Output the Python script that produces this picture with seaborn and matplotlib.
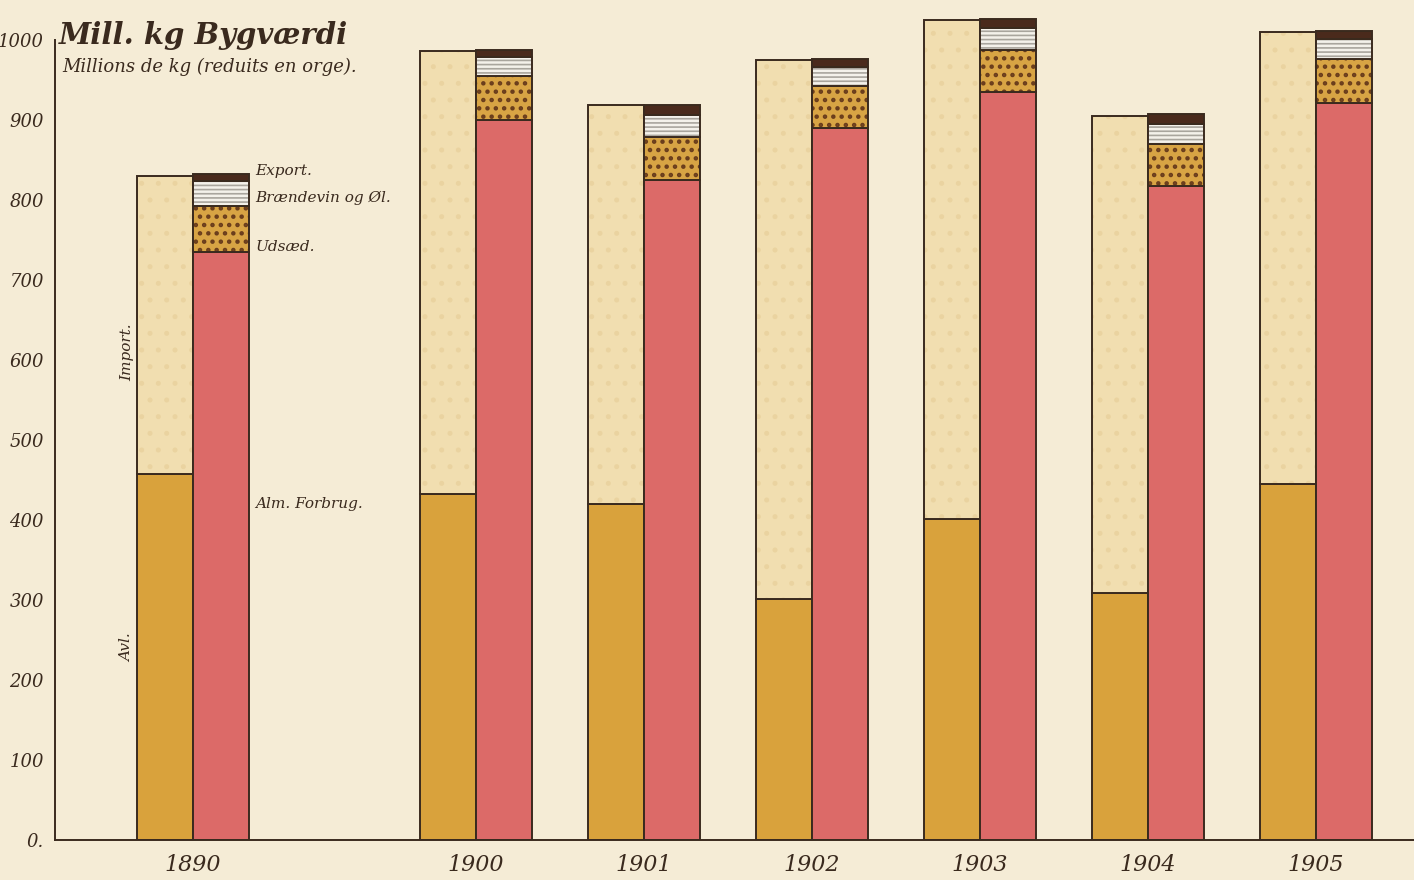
import matplotlib
matplotlib.use("Agg")
import matplotlib.pyplot as plt
import numpy as np
import pandas as pd
import seaborn as sns

# values, mill. kg (barley value)
years = ['1890', '1900', '1901', '1902', '1903', '1904', '1905']
avl = [457, 432, 420, 301, 401, 309, 445]            # production
imp = [373, 554, 499, 674, 624, 596, 565]            # import
forbrug = [735, 900, 825, 890, 935, 817, 921]         # general consumption
udsaed = [57, 55, 54, 52, 52, 53, 55]                 # seed
braendevin = [32, 24, 27, 24, 28, 25, 25]             # spirits and beer
export = [8, 8, 13, 10, 11, 12, 10]                   # export

yticks = [0, 100, 200, 300, 400, 500, 600, 700, 800, 900, 1000]
ytick_labels = ['0.', '100', '200', '300', '400', '500', '600', '700', '800', '900', '1000']

df = pd.DataFrame({'year': years, 'avl': avl, 'import': imp, 'forbrug': forbrug,
                   'udsaed': udsaed, 'braendevin': braendevin, 'export': export})

sns.set_theme(style='white')
plt.rcParams['font.family'] = ['DejaVu Serif']

paper = '#f5ecd6'
ink = '#3a2a1e'
c_avl = '#d9a23c'
c_imp = '#f1deb0'
c_forbrug = '#dc6a68'
c_udsaed = '#d8a444'
c_braend = '#f4f1ea'
c_export = '#4a2a1c'

fig = plt.figure(figsize=(14.14, 8.8), dpi=100, facecolor=paper)
ax = fig.add_axes([0.039, 0.0455, 0.961, 0.9545], facecolor=paper)

# 1890 stands apart from the 1900s series
gap = 0.685
xpos = np.arange(len(df)) + np.where(np.arange(len(df)) > 0, gap, 0)
w = 0.333
xl = xpos - w / 2
xr = xpos + w / 2


def stack(x, vals, bottom, color, hatch=None, hatch_color=None, lw=None):
    if hatch:
        with plt.rc_context({'hatch.linewidth': lw or 2.0}):
            ax.bar(x, vals, w, bottom=bottom, color=color, hatch=hatch,
                   edgecolor=hatch_color, linewidth=0)
    else:
        ax.bar(x, vals, w, bottom=bottom, color=color, linewidth=0)
    ax.bar(x, vals, w, bottom=bottom, fill=False, edgecolor=ink, linewidth=1.4)


# left bar: production + import
stack(xl, df['avl'], 0, c_avl)
stack(xl, df['import'], df['avl'], c_imp, hatch='.', hatch_color='#ead3a0', lw=1.2)

# right bar: consumption, seed, spirits, export
b = np.zeros(len(df))
stack(xr, df['forbrug'], b, c_forbrug)
b = b + df['forbrug']
stack(xr, df['udsaed'], b, c_udsaed, hatch='..', hatch_color='#6a3d1c', lw=2.0)
b = b + df['udsaed']
stack(xr, df['braendevin'], b, c_braend, hatch='----', hatch_color='#a9a59d', lw=1.2)
b = b + df['braendevin']
stack(xr, df['export'], b, c_export)

ax.set_xlim(-0.82, 7.27)
ax.set_ylim(0, 1050)

ax.spines['top'].set_visible(False)
ax.spines['right'].set_visible(False)
ax.spines['left'].set_bounds(0, 1000)
for s in ('left', 'bottom'):
    ax.spines[s].set_color(ink)
    ax.spines[s].set_linewidth(1.4)

ax.set_yticks(yticks)
ax.set_yticklabels(ytick_labels, fontsize=13, style='italic', color=ink)
ax.tick_params(axis='y', direction='out', length=7, width=1.3, color=ink, pad=1)
ax.set_xticks(xpos)
ax.set_xticklabels(years, fontsize=16, style='italic', color=ink)
ax.tick_params(axis='x', length=0, pad=10)

# title, level with the 1000 mark
ax.text(-0.8, 1006, 'Mill. kg Bygværdi', fontsize=21,
        style='italic', fontweight='bold', color=ink, va='center', ha='left')
ax.text(-0.78, 966, 'Millions de kg (reduits en orge).',
        fontsize=13, style='italic', color=ink, va='center', ha='left')

# labels beside the 1890 pair
lx = xr[0] + w / 2 + 0.04
lab = dict(fontsize=11, style='italic', color=ink, va='center', ha='left')
ax.text(lx, df['forbrug'][0] + df['udsaed'][0] + df['braendevin'][0] + 12, 'Export.', **lab)
ax.text(lx, df['forbrug'][0] + df['udsaed'][0] + 10, 'Brændevin og Øl.', **lab)
ax.text(lx, df['forbrug'][0] + df['udsaed'][0] * 0.1, 'Udsæd.', **lab)
ax.text(lx, 420, 'Alm. Forbrug.', **lab)
ax.text(xl[0] - w / 2 - 0.06, 610, 'Import.', rotation=90, **{**lab, 'ha': 'center'})
ax.text(xl[0] - w / 2 - 0.06, 240, 'Avl.', rotation=90, **{**lab, 'ha': 'center'})

plt.savefig('out.png', dpi=100, facecolor=paper)
